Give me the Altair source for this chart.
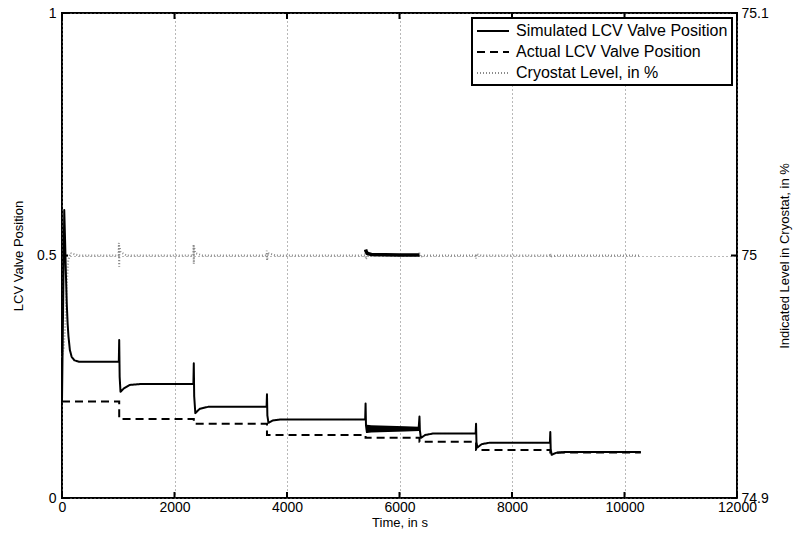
import altair as alt
import pandas as pd

FONT = "Liberation Sans"

# ---- data ----
series_names = ["Simulated LCV Valve Position", "Actual LCV Valve Position", "Cryostat Level, in %"]

t_sim = [0, 40, 55, 70, 85, 100, 115, 140, 172, 220,
         300, 1010, 1017, 1025, 1040, 1100, 1200, 1400,
         2336, 2343, 2350, 2370, 2450, 2600,
         3637, 3644, 3651, 3670, 3750, 3900,
         5390, 5397, 5404, 5420, 5450,
         6340, 6355, 6362, 6380, 6460, 6600,
         7354, 7361, 7368, 7385, 7460, 7600,
         8674, 8681, 8688, 8705, 8780, 8950, 10290]
v_sim = [0.20, 0.594, 0.53, 0.46, 0.40, 0.36, 0.333, 0.305, 0.291, 0.284,
         0.281, 0.281, 0.326, 0.25, 0.219, 0.226, 0.233, 0.235,
         0.235, 0.278, 0.21, 0.175, 0.184, 0.188,
         0.188, 0.214, 0.17, 0.155, 0.160, 0.162,
         0.162, 0.195, 0.15, 0.136, 0.141,
         0.142, 0.168, 0.14, 0.124, 0.130, 0.133,
         0.133, 0.153, 0.115, 0.104, 0.111, 0.114,
         0.114, 0.136, 0.10, 0.089, 0.093, 0.095, 0.095]

t_act = [0, 1017, 1017, 2343, 2343, 3644, 3644, 5397, 5397, 6355, 6355, 7361, 7361, 8681, 8681, 10290]
v_act = [0.199, 0.199, 0.163, 0.163, 0.153, 0.153, 0.130, 0.130, 0.124, 0.124, 0.116, 0.116, 0.099, 0.099, 0.094, 0.094]

# dense oscillation of the simulated valve between 5400 s and 6350 s
t_band = [5404, 5420, 5500, 5800, 6100, 6348]
band_hi = [0.151, 0.151, 0.150, 0.149, 0.148, 0.147]
band_lo = [0.140, 0.134, 0.135, 0.136, 0.137, 0.138]

t_lvl = [0, 30, 60, 85, 110, 150, 300,
         1005, 1012, 1017, 1022, 1040, 1150,
         2335, 2340, 2343, 2348, 2370, 2500,
         3638, 3642, 3646, 3660, 3800,
         5390, 5397, 5402, 5450,
         6350, 6355, 6365, 6450,
         7355, 7361, 7368, 7450,
         8675, 8681, 8690, 8800,
         10290]
v_lvl = [74.958, 74.962, 74.972, 74.988, 74.998, 75.001, 75.0,
         75.0, 75.0052, 74.9954, 75.004, 75.0015, 75.0,
         75.0, 75.0045, 74.9965, 75.0035, 75.001, 75.0,
         75.0, 75.002, 74.998, 75.001, 75.0,
         75.0, 75.002, 74.9985, 75.0,
         75.0, 75.0012, 74.9995, 75.0,
         75.0, 74.9988, 75.0006, 75.0,
         75.0, 75.0008, 74.9996, 75.0,
         75.0]

# dense oscillation of the level between 5400 s and 6355 s (drawn solid)
t_osc = [5397, 5405, 5430, 5500, 6000, 6355]
v_osc = [75.0025, 75.0018, 75.0008, 75.0004, 75.0002, 75.0002]

x_ticks = [0, 2000, 4000, 6000, 8000, 10000, 12000]
y_ticks = [0, 0.5, 1]
r_ticks = [74.9, 75, 75.1]

# ---- tables ----
df_sim = pd.DataFrame({"t": t_sim, "v": v_sim, "i": range(len(t_sim)), "series": series_names[0]})
df_act = pd.DataFrame({"t": t_act, "v": v_act, "i": range(len(t_act)), "series": series_names[1]})
df_band = pd.DataFrame({"t": t_band, "lo": band_lo, "hi": band_hi})
df_lvl = pd.DataFrame({"t": t_lvl, "v": v_lvl, "i": range(len(t_lvl)), "series": series_names[2]})
df_osc = pd.DataFrame({"t": t_osc, "v": v_osc})
df_xt = pd.DataFrame({"t": x_ticks})
df_yt = pd.DataFrame({"v": y_ticks})
df_rt = pd.DataFrame({"v": r_ticks})

W, H = 675, 485
TICK = 6

xs = alt.Scale(domain=[0, 12000], nice=False, zero=False)
ys = alt.Scale(domain=[0, 1], nice=False, zero=False)
rs = alt.Scale(domain=[74.9, 75.1], nice=False, zero=False)

GRID = dict(gridColor="#707070", gridDash=[1, 3], gridWidth=1)


def series_enc():
    return dict(
        color=alt.Color("series:N", scale=alt.Scale(domain=series_names, range=["black", "black", "#8a8a8a"]),
                        legend=alt.Legend(title=None)),
        strokeDash=alt.StrokeDash("series:N", scale=alt.Scale(domain=series_names, range=[[1, 0], [8, 5], [1, 2]]),
                                  legend=alt.Legend(title=None)),
        strokeWidth=alt.StrokeWidth("series:N", scale=alt.Scale(domain=series_names, range=[2, 2, 1]),
                                    legend=alt.Legend(title=None)),
    )


x_main = alt.X("t:Q", scale=xs, axis=alt.Axis(
    orient="bottom", values=x_ticks, format="d", ticks=False, tickSize=0, domain=False, grid=True, **GRID,
    labelFontSize=14, labelPadding=2, labelFlush=False, labelColor="black", labelFont=FONT,
    title="Time, in s", titleFontSize=13, titleFontWeight="normal", titleColor="black", titleFont=FONT,
    titleX=337.5, titleY=24, titleAlign="center", titleBaseline="middle"))
y_main = alt.Y("v:Q", scale=ys, axis=alt.Axis(
    orient="left", values=y_ticks, format="~g", ticks=False, tickSize=0, domain=False, grid=True, **GRID,
    labelFontSize=14, labelPadding=6, labelColor="black", labelFont=FONT,
    title="LCV Valve Position", titleFontSize=13, titleFontWeight="normal", titleColor="black", titleFont=FONT,
    titleX=-44, titleY=242.5, titleAngle=270, titleAlign="center", titleBaseline="middle"))

sim = alt.Chart(df_sim).mark_line(strokeJoin="round").encode(
    x=x_main, y=y_main, order="i:Q", **series_enc())

act = alt.Chart(df_act).mark_line().encode(
    x=alt.X("t:Q", scale=xs, axis=None),
    y=alt.Y("v:Q", scale=ys, axis=None),
    order="i:Q", **series_enc())

band = alt.Chart(df_band).mark_area(color="black").encode(
    x=alt.X("t:Q", scale=xs, axis=None),
    y=alt.Y("lo:Q", scale=ys, axis=None),
    y2="hi:Q")

lvl = alt.Chart(df_lvl).mark_line().encode(
    x=alt.X("t:Q", scale=xs, axis=None),
    y=alt.Y("v:Q", scale=rs, axis=alt.Axis(
        orient="right", values=r_ticks, format="~g", ticks=False, tickSize=0, domain=False, grid=False,
        labelFontSize=14, labelPadding=4, labelColor="black", labelFont=FONT,
        title="Indicated Level in Cryostat, in %", titleFontSize=13, titleFontWeight="normal",
        titleColor="black", titleFont=FONT,
        titleX=47, titleY=242.5, titleAngle=270, titleAlign="center", titleBaseline="middle")),
    order="i:Q", **series_enc())

osc = alt.Chart(df_osc).mark_line(color="black", strokeWidth=3.5).encode(
    x=alt.X("t:Q", scale=xs, axis=None),
    y=alt.Y("v:Q", scale=rs, axis=None))

# inward tick marks on all four sides (positions come from the tick arrays through the scales)
tick_style = dict(color="black", strokeWidth=2)
ticks_bottom = alt.Chart(df_xt).mark_rule(**tick_style).encode(
    x=alt.X("t:Q", scale=xs, axis=None), y=alt.value(H), y2=alt.value(H - TICK))
ticks_top = alt.Chart(df_xt).mark_rule(**tick_style).encode(
    x=alt.X("t:Q", scale=xs, axis=None), y=alt.value(0), y2=alt.value(TICK))
ticks_left = alt.Chart(df_yt).mark_rule(**tick_style).encode(
    y=alt.Y("v:Q", scale=ys, axis=None), x=alt.value(0), x2=alt.value(TICK))
ticks_right = alt.Chart(df_rt).mark_rule(**tick_style).encode(
    y=alt.Y("v:Q", scale=rs, axis=None), x=alt.value(W), x2=alt.value(W - TICK))

chart = alt.layer(
    lvl, osc, band, act, sim, ticks_bottom, ticks_top, ticks_left, ticks_right
).resolve_scale(
    x="independent", y="independent"
).resolve_axis(
    x="independent", y="independent"
).properties(
    width=W, height=H,
    autosize=alt.AutoSizeParams(type="none"),
    padding={"left": 62, "top": 13, "right": 57, "bottom": 46},
).configure(font=FONT).configure_view(
    stroke="black", strokeWidth=2
).configure_legend(
    orient="none", legendX=410, legendY=5,
    strokeColor="black", strokeWidth=2, fillColor="white", padding=4, rowPadding=4,
    labelFontSize=16, labelFont=FONT, labelColor="black", labelOffset=22, labelLimit=400,
    symbolType="M-1,0H3", symbolSize=256,
)

chart.save("out.html", embed_options={"renderer": "svg", "actions": False})
